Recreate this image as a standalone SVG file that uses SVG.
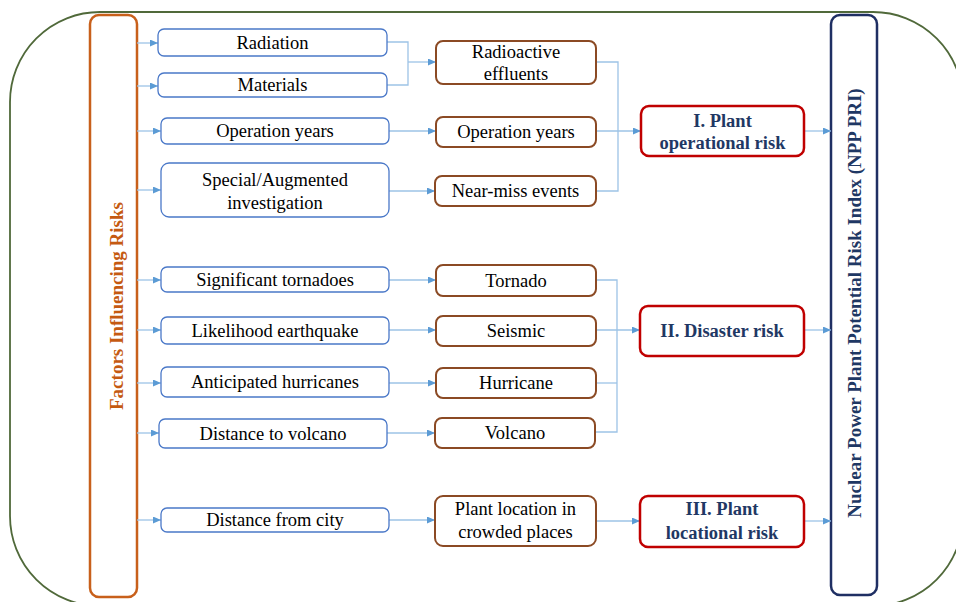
<svg xmlns="http://www.w3.org/2000/svg" width="956" height="602" viewBox="0 0 956 602">
<defs>
<marker id="arr" markerWidth="8" markerHeight="7" refX="8" refY="3.5" orient="auto" markerUnits="userSpaceOnUse">
<path d="M0,0 L8,3.5 L0,7 z" fill="#5b9bd5"/>
</marker>
<style>
text{font-family:'Liberation Serif','Times New Roman',Tinos,'DejaVu Serif',serif}
.in{fill:#fff;stroke:#4a78c8;stroke-width:1.3}
.mid{fill:#fff;stroke:#8b4a24;stroke-width:2}
.risk{fill:#fff;stroke:#c00000;stroke-width:2.5}
.t{font-size:18.5px;fill:#000;text-anchor:middle}
.b{font-size:18.5px;font-weight:bold;fill:#1f3864;text-anchor:middle}
.v{font-size:19px;font-weight:bold;text-anchor:middle}
.c{fill:none;stroke:#9dc3e6;stroke-width:1.3}
.a{marker-end:url(#arr)}
</style>
</defs>
<rect id="frame" x="10" y="12" width="953" height="594" rx="90" ry="90" fill="none" stroke="#50693a" stroke-width="1.8"/>

<g id="factors">
<rect x="90" y="15" width="47" height="582" rx="9" fill="#fff" stroke="#c8601b" stroke-width="2.5"/>
<text class="v" transform="translate(123,306) rotate(-90)" fill="#c55a11">Factors Influencing Risks</text>
</g>
<g id="nppri">
<rect x="831" y="15" width="46" height="580" rx="9" fill="#fff" stroke="#1f2f63" stroke-width="2.5"/>
<text class="v" transform="translate(861,303) rotate(-90)" fill="#1f3864">Nuclear Power Plant Potential Risk Index (NPP PRI)</text>
</g>

<g id="connectors">
<line class="c a" x1="137" y1="43" x2="158" y2="43"/>
<line class="c a" x1="137" y1="86" x2="158" y2="86"/>
<line class="c a" x1="137" y1="131" x2="161" y2="131"/>
<line class="c a" x1="137" y1="190" x2="161" y2="190"/>
<line class="c a" x1="137" y1="280" x2="161" y2="280"/>
<line class="c a" x1="137" y1="330" x2="161" y2="330"/>
<line class="c a" x1="137" y1="383" x2="161" y2="383"/>
<line class="c a" x1="137" y1="433" x2="159" y2="433"/>
<line class="c a" x1="137" y1="520" x2="161" y2="520"/>

<polyline class="c" points="387,42 408,42 408,85 387,85"/>
<line class="c a" x1="408" y1="62" x2="436" y2="62"/>
<line class="c a" x1="389" y1="131" x2="436" y2="131"/>
<line class="c a" x1="389" y1="191" x2="435" y2="191"/>
<line class="c a" x1="389" y1="280" x2="436" y2="280"/>
<line class="c a" x1="389" y1="330" x2="436" y2="330"/>
<line class="c a" x1="389" y1="383" x2="436" y2="383"/>
<line class="c a" x1="387" y1="433" x2="435" y2="433"/>
<line class="c a" x1="389" y1="520" x2="435" y2="520"/>

<polyline class="c" points="596,62 618,62 618,191 596,191"/>
<line class="c a" x1="596" y1="131" x2="641" y2="131"/>
<polyline class="c" points="597,280 617,280 617,432 595,432"/>
<line class="c" x1="597" y1="383" x2="617" y2="383"/>
<line class="c a" x1="597" y1="330" x2="640" y2="330"/>
<line class="c a" x1="596" y1="521" x2="640" y2="521"/>

<line class="c a" x1="804" y1="131" x2="831" y2="131"/>
<line class="c a" x1="804" y1="330" x2="831" y2="330"/>
<line class="c a" x1="804" y1="521" x2="831" y2="521"/>
</g>

<g id="radiation"><rect class="in" x="158" y="29" width="229" height="27" rx="6"/><text class="t" x="272.5" y="49">Radiation</text></g>
<g id="materials"><rect class="in" x="158" y="73" width="229" height="24" rx="6"/><text class="t" x="272.5" y="91">Materials</text></g>
<g id="operation-years-in"><rect class="in" x="161" y="118" width="228" height="26" rx="6"/><text class="t" x="275" y="137">Operation years</text></g>
<g id="special"><rect class="in" x="161" y="163" width="228" height="54" rx="8"/><text class="t" x="275" y="186">Special/Augmented</text><text class="t" x="275" y="209">investigation</text></g>
<g id="tornadoes"><rect class="in" x="161" y="267" width="228" height="25" rx="6"/><text class="t" x="275" y="286">Significant tornadoes</text></g>
<g id="earthquake"><rect class="in" x="161" y="317" width="228" height="27" rx="6"/><text class="t" x="275" y="337">Likelihood earthquake</text></g>
<g id="hurricanes"><rect class="in" x="161" y="367" width="228" height="30" rx="6"/><text class="t" x="275" y="388">Anticipated hurricanes</text></g>
<g id="volcano-dist"><rect class="in" x="159" y="419" width="228" height="29" rx="6"/><text class="t" x="273" y="440">Distance to volcano</text></g>
<g id="city-dist"><rect class="in" x="161" y="508" width="228" height="24" rx="6"/><text class="t" x="275" y="526">Distance from city</text></g>

<g id="effluents"><rect class="mid" x="436" y="41" width="160" height="43" rx="7"/><text class="t" x="516" y="58">Radioactive</text><text class="t" x="516" y="80">effluents</text></g>
<g id="operation-years"><rect class="mid" x="436" y="117" width="160" height="30" rx="7"/><text class="t" x="516" y="138">Operation years</text></g>
<g id="near-miss"><rect class="mid" x="435" y="176" width="161" height="30" rx="7"/><text class="t" x="515.5" y="197">Near-miss events</text></g>
<g id="tornado"><rect class="mid" x="436" y="265" width="160" height="31" rx="7"/><text class="t" x="516" y="286.5">Tornado</text></g>
<g id="seismic"><rect class="mid" x="436" y="316" width="160" height="30" rx="7"/><text class="t" x="516" y="337">Seismic</text></g>
<g id="hurricane"><rect class="mid" x="436" y="368" width="160" height="30" rx="7"/><text class="t" x="516" y="389">Hurricane</text></g>
<g id="volcano"><rect class="mid" x="435" y="418" width="160" height="30" rx="7"/><text class="t" x="515" y="439">Volcano</text></g>
<g id="crowded"><rect class="mid" x="435" y="496" width="161" height="50" rx="8"/><text class="t" x="515.5" y="515">Plant location in</text><text class="t" x="515.5" y="538">crowded places</text></g>

<g id="operational-risk"><rect class="risk" x="641" y="106" width="163" height="50" rx="8"/><text class="b" x="722.5" y="127">I. Plant</text><text class="b" x="722.5" y="149">operational risk</text></g>
<g id="disaster-risk"><rect class="risk" x="640" y="306" width="164" height="50" rx="8"/><text class="b" x="722" y="337">II. Disaster risk</text></g>
<g id="locational-risk"><rect class="risk" x="640" y="496" width="164" height="51" rx="8"/><text class="b" x="722" y="539">locational risk</text><text class="b" x="722" y="515">III. Plant</text></g>
</svg>
